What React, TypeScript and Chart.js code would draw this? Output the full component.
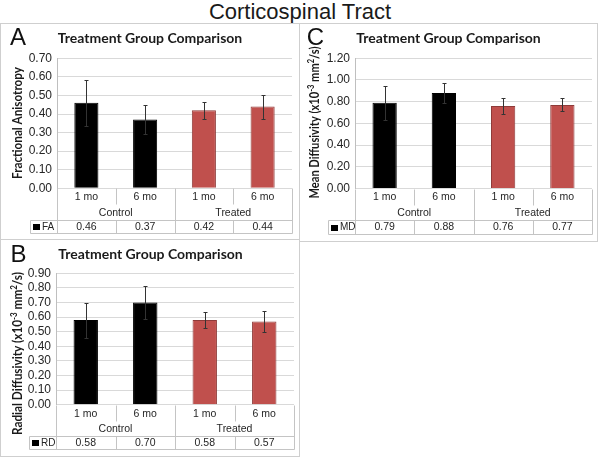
import React, { useEffect, useRef } from "react";
import { Chart, registerables } from "chart.js";

Chart.register(...registerables);

// ---------------- data ----------------
const monthLabels = ["1 mo", "6 mo", "1 mo", "6 mo"];
const groupLabels = ["Control", "Treated"];

const faMeans = [0.46, 0.37, 0.42, 0.44];
const faErrors = [0.125, 0.08, 0.045, 0.065];

const rdMeans = [0.58, 0.7, 0.58, 0.57];
const rdErrors = [0.12, 0.11, 0.055, 0.07];

const mdMeans = [0.79, 0.88, 0.76, 0.77];
const mdErrors = [0.155, 0.09, 0.07, 0.06];

const faTicks = [0, 0.1, 0.2, 0.3, 0.4, 0.5, 0.6, 0.7];
const rdTicks = [0, 0.1, 0.2, 0.3, 0.4, 0.5, 0.6, 0.7, 0.8, 0.9];
const mdTicks = [0, 0.2, 0.4, 0.6, 0.8, 1.0, 1.2];

// y-axis titles as [text, isSuperscript] runs
const faTitle: [string, boolean][] = [["Fractional Anisotropy", false]];
const rdTitle: [string, boolean][] = [
  ["Radial Diffusivity (x10", false],
  ["-3", true],
  [" mm", false],
  ["2", true],
  ["/s)", false],
];
const mdTitle: [string, boolean][] = [
  ["Mean Diffusivity (x10", false],
  ["-3", true],
  [" mm", false],
  ["2", true],
  ["/s)", false],
];

// ---------------- style ----------------
const barFill = ["#000000", "#000000", "#C0504D", "#C0504D"];
const barEdge = ["#000000", "#000000", "#8E3B39", "#8E3B39"];
const SANS = "'Liberation Sans', Arial, sans-serif";
const BOLD = "'Lato', 'Liberation Sans', sans-serif";
const TEXT = "#262626";
const GRID = "#d9d9d9";
const LINE = "#c4c4c4";
const FRAME = "#cfcfcf";

type Spec = {
  letter: string;
  x: number;
  y: number;
  w: number;
  h: number;
  axisW: number;
  padR: number;
  padT: number;
  padB: number;
  means: number[];
  errors: number[];
  ticks: number[];
  series: string;
  yTitle: [string, boolean][];
  yTitleX: number;
  yTitleY: number;
  yTitleLen: number;
  letterX: number;
  letterY: number;
  titleX: number;
  titleY: number;
  tableH: number;
};

const panels: Spec[] = [
  {
    letter: "A", x: 0, y: 23, w: 300, h: 217,
    axisW: 57, padR: 8, padT: 35.3, padB: 51.7,
    means: faMeans, errors: faErrors, ticks: faTicks,
    series: "FA", yTitle: faTitle,
    yTitleX: 17, yTitleY: 100, yTitleLen: 112,
    letterX: 18, letterY: 21.5, titleX: 150, titleY: 15.5, tableH: 45,
  },
  {
    letter: "B", x: 0, y: 239, w: 300, h: 218,
    axisW: 56, padR: 6, padT: 34.3, padB: 52.3,
    means: rdMeans, errors: rdErrors, ticks: rdTicks,
    series: "RD", yTitle: rdTitle,
    yTitleX: 17, yTitleY: 114.5, yTitleLen: 163,
    letterX: 18.5, letterY: 23, titleX: 150.5, titleY: 15.5, tableH: 44,
  },
  {
    letter: "C", x: 299, y: 23, w: 299, h: 219,
    axisW: 56, padR: 6, padT: 35.3, padB: 53.5,
    means: mdMeans, errors: mdErrors, ticks: mdTicks,
    series: "MD", yTitle: mdTitle,
    yTitleX: 15, yTitleY: 99.5, yTitleLen: 152,
    letterX: 16.5, letterY: 21.5, titleX: 149.5, titleY: 15.5, tableH: 45.5,
  },
];

function drawRuns(ctx: CanvasRenderingContext2D, runs: [string, boolean][], targetLen: number) {
  const size = 12.5;
  const fontFor = (sup: boolean) => `bold ${sup ? 8.5 : size}px ${BOLD}`;
  const widths = runs.map(([t, sup]) => {
    ctx.font = fontFor(sup);
    return ctx.measureText(t).width;
  });
  const total = widths.reduce((a, b) => a + b, 0);
  const k = Math.min(1, targetLen / total);
  ctx.scale(k, 1);
  let x = -total / 2;
  ctx.textAlign = "left";
  ctx.textBaseline = "alphabetic";
  runs.forEach(([t, sup], i) => {
    ctx.font = fontFor(sup);
    ctx.fillText(t, x, sup ? 0 : 4.5);
    x += widths[i];
  });
}

function decorPlugin(spec: Spec) {
  return {
    id: "panelDecor" + spec.letter,
    beforeDraw(chart: any) {
      const ctx = chart.ctx;
      ctx.save();
      ctx.fillStyle = "#ffffff";
      ctx.fillRect(0, 0, chart.width, chart.height);
      ctx.strokeStyle = FRAME;
      ctx.lineWidth = 1;
      ctx.strokeRect(0.5, 0.5, chart.width - 1, chart.height - 1);
      ctx.restore();
    },
    afterDatasetsDraw(chart: any) {
      const ctx = chart.ctx;
      const ys = chart.scales.y;
      const meta = chart.getDatasetMeta(0);
      ctx.save();
      ctx.strokeStyle = "#333333";
      ctx.lineWidth = 1;
      meta.data.forEach((el: any, i: number) => {
        const x = Math.round(el.x) + 0.5;
        const top = Math.round(ys.getPixelForValue(spec.means[i] + spec.errors[i])) + 0.5;
        const bot = Math.round(ys.getPixelForValue(spec.means[i] - spec.errors[i])) + 0.5;
        ctx.beginPath();
        ctx.moveTo(x, top);
        ctx.lineTo(x, bot);
        ctx.moveTo(x - 2, top);
        ctx.lineTo(x + 2, top);
        ctx.moveTo(x - 2, bot);
        ctx.lineTo(x + 2, bot);
        ctx.stroke();
      });
      ctx.restore();
    },
    afterDraw(chart: any) {
      const ctx = chart.ctx;
      const ca = chart.chartArea;
      const xs = chart.scales.x;
      const n = monthLabels.length;
      const half = (ca.right - ca.left) / n / 2;
      const centers = monthLabels.map((_, i) => xs.getPixelForValue(i));
      const bounds = [centers[0] - half, ...centers.map((c) => c + half)];
      const P = (v: number) => Math.round(v) + 0.5;
      const b = ca.bottom;
      const bottom = b + spec.tableH;
      const rowLine = b + 31.5;
      const cellLeft = ca.left - 27;

      ctx.save();
      ctx.strokeStyle = LINE;
      ctx.lineWidth = 1;
      ctx.beginPath();
      [bounds[0], bounds[2], bounds[4]].forEach((x) => {
        ctx.moveTo(P(x), P(b));
        ctx.lineTo(P(x), P(bottom));
      });
      [bounds[1], bounds[3]].forEach((x) => {
        ctx.moveTo(P(x), P(b));
        ctx.lineTo(P(x), P(b + 16));
        ctx.moveTo(P(x), P(rowLine));
        ctx.lineTo(P(x), P(bottom));
      });
      ctx.moveTo(P(cellLeft), P(rowLine));
      ctx.lineTo(P(bounds[4]), P(rowLine));
      ctx.moveTo(P(cellLeft), P(bottom));
      ctx.lineTo(P(bounds[4]), P(bottom));
      ctx.moveTo(P(cellLeft), P(rowLine));
      ctx.lineTo(P(cellLeft), P(bottom));
      ctx.stroke();

      ctx.fillStyle = TEXT;
      ctx.font = `10.5px ${SANS}`;
      ctx.textAlign = "center";
      ctx.textBaseline = "middle";
      monthLabels.forEach((m, i) => ctx.fillText(m, centers[i], b + 9));
      groupLabels.forEach((g, gi) => ctx.fillText(g, bounds[gi * 2 + 1], b + 24.5));
      const mid = (rowLine + bottom) / 2 + 0.5;
      spec.means.forEach((v, i) => ctx.fillText(v.toFixed(2), centers[i], mid));
      ctx.fillStyle = "#000000";
      ctx.fillRect(Math.round(cellLeft) + 3, Math.round(mid) - 3, 7, 6);
      ctx.fillStyle = TEXT;
      ctx.textAlign = "left";
      ctx.font = `10px ${SANS}`;
      ctx.fillText(spec.series, Math.round(cellLeft) + 12, mid);

      ctx.save();
      ctx.translate(spec.yTitleX, spec.yTitleY);
      ctx.rotate(-Math.PI / 2);
      ctx.fillStyle = "#1a1a1a";
      drawRuns(ctx, spec.yTitle, spec.yTitleLen);
      ctx.restore();

      ctx.font = `bold 14px ${BOLD}`;
      ctx.textAlign = "center";
      ctx.textBaseline = "middle";
      ctx.fillStyle = "#1a1a1a";
      ctx.fillText("Treatment Group Comparison", spec.titleX, spec.titleY);

      ctx.font = `24px ${SANS}`;
      ctx.textBaseline = "alphabetic";
      ctx.fillStyle = "#111111";
      ctx.fillText(spec.letter, spec.letterX, spec.letterY);
      ctx.restore();
    },
  };
}

function Panel({ spec }: { spec: Spec }) {
  const ref = useRef<HTMLCanvasElement>(null);
  useEffect(() => {
    const canvas = ref.current;
    if (!canvas) return;
    const tickList = spec.ticks;
    const chart = new Chart(canvas, {
      type: "bar",
      data: {
        labels: monthLabels,
        datasets: [
          {
            label: spec.series,
            data: spec.means,
            backgroundColor: barFill,
            borderColor: barEdge,
            borderWidth: 1,
            barPercentage: 0.41,
            categoryPercentage: 1,
          },
        ],
      },
      options: {
        responsive: false,
        animation: false,
        devicePixelRatio: 1,
        layout: { padding: { left: 0, right: spec.padR, top: spec.padT, bottom: spec.padB } },
        plugins: {
          legend: { display: false },
          title: { display: false },
          tooltip: { enabled: false },
        },
        scales: {
          x: { display: false },
          y: {
            min: tickList[0],
            max: tickList[tickList.length - 1],
            afterBuildTicks: (s: any) => {
              s.ticks = tickList.map((v) => ({ value: v }));
            },
            ticks: {
              autoSkip: false,
              callback: (v: any) => Number(v).toFixed(2),
              font: { family: SANS, size: 12 },
              color: TEXT,
              padding: 5,
            },
            grid: { color: GRID, drawTicks: false },
            border: { display: true, color: "#bfbfbf" },
            afterFit: (s: any) => {
              s.width = spec.axisW;
            },
          },
        },
      } as any,
      plugins: [decorPlugin(spec)],
    });
    return () => chart.destroy();
  }, [spec]);
  return (
    <canvas
      ref={ref}
      width={spec.w}
      height={spec.h}
      style={{ position: "absolute", left: spec.x, top: spec.y, width: spec.w, height: spec.h }}
    />
  );
}

export default function App() {
  return (
    <div style={{ position: "absolute", left: 0, top: 0, width: 600, height: 458, background: "#ffffff" }}>
      <div
        style={{
          position: "absolute",
          left: 0,
          top: 0,
          width: 600,
          height: 24,
          lineHeight: "24px",
          textAlign: "center",
          fontFamily: SANS,
          fontSize: 22,
          color: "#1a1a1a",
        }}
      >
        Corticospinal Tract
      </div>
      {panels.map((p) => (
        <Panel key={p.letter} spec={p} />
      ))}
    </div>
  );
}
